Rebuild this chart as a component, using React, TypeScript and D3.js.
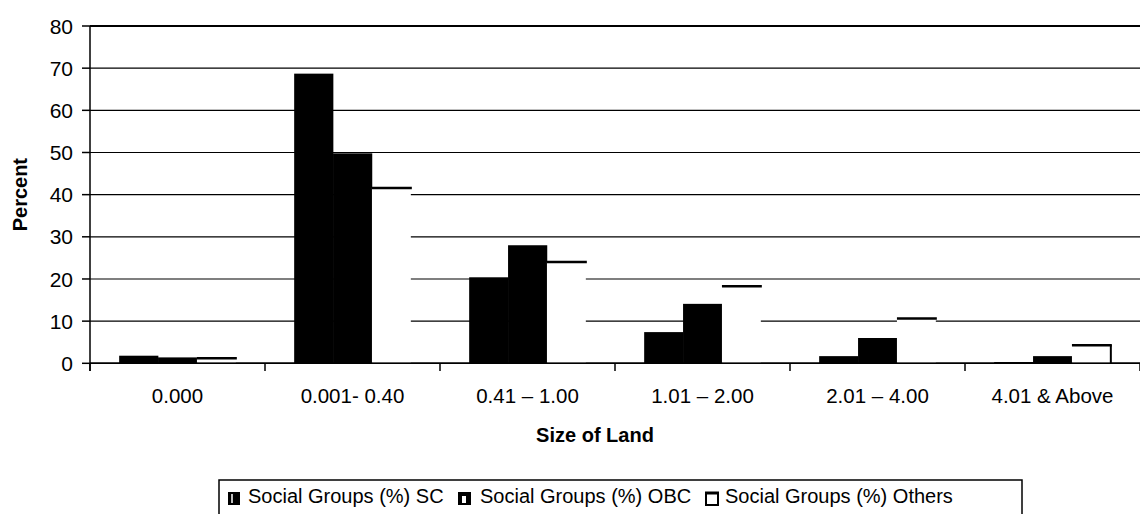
import React from "react";
import * as d3 from "d3";

const categories = ["0.000", "0.001- 0.40", "0.41 – 1.00", "1.01 – 2.00", "2.01 – 4.00", "4.01 & Above"];
const seriesNames = ["Social Groups (%) SC", "Social Groups (%) OBC", "Social Groups (%) Others"];
const scValues = [1.8, 68.7, 20.4, 7.4, 1.7, 0.3];
const obcValues = [1.4, 49.8, 28.0, 14.1, 6.0, 1.7];
const othersValues = [1.2, 41.6, 24.0, 18.3, 10.6, 4.3];
const yTicks = [0, 10, 20, 30, 40, 50, 60, 70, 80];

const W = 1140;
const H = 514;
const FONT = "'Liberation Sans', Arial, sans-serif";

export default function App() {
  const x0 = d3.scaleBand<string>().domain(categories).range([90, 1140]).paddingInner(0).paddingOuter(0);
  const x1 = d3.scaleBand<string>().domain(seriesNames).range([0, x0.bandwidth()]).paddingInner(0).paddingOuter(0.75);
  const y = d3.scaleLinear().domain([0, 80]).range([363.3, 26]);
  const series = [scValues, obcValues, othersValues];
  const bw = x1.bandwidth();
  const tickXs = categories.map((c) => x0(c) as number).concat([1140]);

  const legendItems = [
    { name: seriesNames[0], iconX: 228, textX: 248 },
    { name: seriesNames[1], iconX: 458, textX: 480 },
    { name: seriesNames[2], iconX: 705, textX: 725 },
  ];

  return (
    <svg width={W} height={H} style={{ position: "absolute", left: 0, top: 0, background: "#fff" }} fontFamily={FONT}>
      <rect x={0} y={0} width={W} height={H} fill="#fff" />
      {/* gridlines */}
      {yTicks.map((t) => (
        <line key={"g" + t} x1={90} x2={1140} y1={y(t)} y2={y(t)} stroke="#000" strokeWidth={t === 80 ? 2 : t === 0 ? 1.5 : 1.2} />
      ))}
      {/* bars */}
      {categories.map((c, ci) => (
        <g key={c}>
          {series.map((vals, si) => {
            const bx = (x0(c) as number) + (x1(seriesNames[si]) as number);
            const by = y(vals[ci]);
            const bh = y(0) - by;
            if (si < 2) {
              return <rect key={si} x={bx} y={by} width={bw + 0.3} height={bh} fill="#000" />;
            }
            return (
              <g key={si}>
                <rect x={bx} y={by} width={bw} height={bh - 0.8} fill="#fff" />
                <line x1={bx} x2={bx + bw + 1} y1={by} y2={by} stroke="#000" strokeWidth={2.5} />
                {ci === categories.length - 1 && (
                  <line x1={bx + bw} x2={bx + bw} y1={by} y2={y(0)} stroke="#000" strokeWidth={2} />
                )}
              </g>
            );
          })}
        </g>
      ))}
      {/* axes */}
      <line x1={90} x2={90} y1={26} y2={371} stroke="#000" strokeWidth={1.5} />
      <line x1={90} x2={1140} y1={y(0)} y2={y(0)} stroke="#000" strokeWidth={1.5} />
      {yTicks.map((t) => (
        <g key={"yt" + t}>
          <line x1={82} x2={90} y1={y(t)} y2={y(t)} stroke="#000" strokeWidth={1.5} />
          <text x={73} y={y(t)} dy="0.36em" textAnchor="end" fontSize={21} fill="#000">{t}</text>
        </g>
      ))}
      {tickXs.map((tx, i) => (
        <line key={"xt" + i} x1={tx} x2={tx} y1={y(0)} y2={371} stroke="#000" strokeWidth={1.5} />
      ))}
      {categories.map((c) => (
        <text key={"xl" + c} x={(x0(c) as number) + x0.bandwidth() / 2} y={403} textAnchor="middle" fontSize={20.5} fill="#000">{c}</text>
      ))}
      <text x={595} y={442} textAnchor="middle" fontSize={20} fontWeight="bold" fill="#000">Size of Land</text>
      <text transform={`translate(27,${(y(0) + y(80)) / 2}) rotate(-90)`} textAnchor="middle" fontSize={20} fontWeight="bold" fill="#000">Percent</text>
      {/* legend */}
      <rect x={219} y={480} width={803} height={50} fill="#fff" stroke="#000" strokeWidth={1.5} />
      {legendItems.map((it, i) => (
        <g key={"lg" + i}>
          {i === 0 && (
            <g>
              <rect x={it.iconX} y={492} width={12} height={13} fill="#000" />
              <line x1={it.iconX + 4} x2={it.iconX + 4} y1={494} y2={503} stroke="#fff" strokeWidth={1.5} />
            </g>
          )}
          {i === 1 && (
            <g>
              <rect x={it.iconX} y={492} width={13} height={13} fill="#000" />
              <rect x={it.iconX + 4} y={496} width={4} height={7} fill="#fff" />
            </g>
          )}
          {i === 2 && (
            <g>
              <rect x={it.iconX + 1} y={493} width={12} height={12} fill="#fff" stroke="#000" strokeWidth={2} />
              <line x1={it.iconX} x2={it.iconX + 14} y1={493} y2={493} stroke="#000" strokeWidth={3} />
            </g>
          )}
          <text x={it.textX} y={503} fontSize={20} fill="#000">{it.name}</text>
        </g>
      ))}
    </svg>
  );
}
